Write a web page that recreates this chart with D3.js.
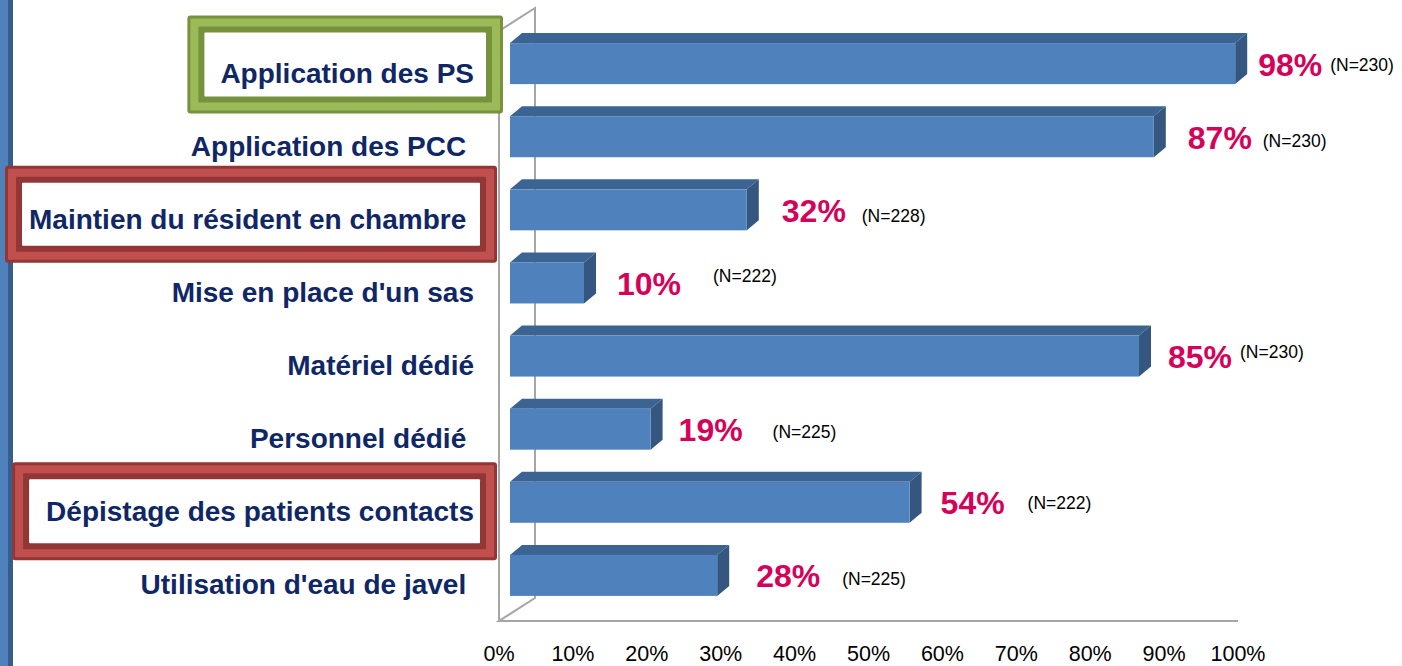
<!DOCTYPE html>
<html>
<head>
<meta charset="utf-8">
<script src="https://cdn.jsdelivr.net/npm/d3@7"></script>
<style>
  html, body { margin: 0; padding: 0; background: #fff; }
  svg { display: block; }
  text { font-family: "Liberation Sans", Arial, sans-serif; }
</style>
</head>
<body>
<div id="chart"></div>
<script>
// ---- data ----
const categories = [
  "Application des PS",
  "Application des PCC ",
  "Maintien du résident en chambre ",
  "Mise en place d'un sas",
  "Matériel dédié",
  "Personnel dédié ",
  "Dépistage des patients contacts",
  "Utilisation d'eau de javel "
];
const values = [98, 87, 32, 10, 85, 19, 54, 28];
const counts = [230, 230, 228, 222, 230, 225, 222, 225];
const tickValues = [0, 10, 20, 30, 40, 50, 60, 70, 80, 90, 100];

// label nudges (layout only)
const pctGap = [23, 34, 35, 33, 29, 28, 31, 39];
const nGap = [95, 109, 115, 129, 101, 122, 118, 125];
const nDy = [1, 4, 6, -7, -4, 3, 1, 4];

// highlighted categories
const highlights = [
  { cat: "Application des PS", light: "#9bbb59", dark: "#76923c", padL: 33, padR: 29, top: -57, bottom: 41 },
  { cat: "Maintien du résident en chambre ", light: "#c0504d", dark: "#923735", padL: 24, padR: 23, top: -53, bottom: 44 },
  { cat: "Dépistage des patients contacts", light: "#c0504d", dark: "#923735", padL: 34, padR: 23, top: -49, bottom: 49 }
];

const W = 1402, H = 666;
const svg = d3.select("#chart").append("svg")
  .attr("width", W).attr("height", H);

// left stripe
svg.append("rect").attr("x", 0).attr("y", 0).attr("width", 8).attr("height", H).attr("fill", "#4f81bd");
svg.append("rect").attr("x", 8).attr("y", 0).attr("width", 5).attr("height", H).attr("fill", "#385d8a");

// scales
const xAxisScale = d3.scaleLinear().domain([0, 100]).range([499, 1238]); // front plane
const xBar = d3.scaleLinear().domain([0, 100]).range([510, 1250]);       // bar plane
const y = d3.scaleBand().domain(categories).range([11, 628]).paddingInner(0.439).paddingOuter(0.439);

const wallDx = 36, wallDy = -23;   // depth of the side wall
const barDx = 12, barDy = -10;     // depth of each bar
const wallTop = 31, wallBottom = 621;

// ---- walls ----
const wall = svg.append("g").attr("stroke", "#a6a6a6").attr("stroke-width", 2).attr("fill", "none");
const x0 = xAxisScale(0);
wall.append("path").attr("d",
  `M${x0},${wallBottom} L${x0},${wallTop} L${x0 + wallDx},${wallTop + wallDy} L${x0 + wallDx},${wallBottom + wallDy} L${x0},${wallBottom} L${xAxisScale(100)},${wallBottom}`);

// ---- bars ----
const rows = categories.map((c, i) => ({ cat: c, v: values[i], n: counts[i], i }));
const bars = svg.append("g").selectAll("g").data(rows).join("g");

bars.append("path") // top face
  .attr("fill", "#3c6493")
  .attr("d", d => {
    const xa = xBar(0), xb = xBar(d.v), yt = y(d.cat);
    return `M${xa},${yt} L${xa + barDx},${yt + barDy} L${xb + barDx},${yt + barDy} L${xb},${yt} Z`;
  });
bars.append("path") // side face
  .attr("fill", "#34567f")
  .attr("d", d => {
    const xb = xBar(d.v), yt = y(d.cat), yb = yt + y.bandwidth();
    return `M${xb},${yt} L${xb + barDx},${yt + barDy} L${xb + barDx},${yb + barDy} L${xb},${yb} Z`;
  });
bars.append("rect") // front face
  .attr("x", xBar(0))
  .attr("y", d => y(d.cat))
  .attr("width", d => xBar(d.v) - xBar(0))
  .attr("height", y.bandwidth())
  .attr("fill", "#4f81bd");

// value labels
bars.append("text")
  .attr("x", d => xBar(d.v) + pctGap[d.i])
  .attr("y", d => y(d.cat) + y.bandwidth() / 2 + 12)
  .attr("font-size", 32)
  .attr("font-weight", "bold")
  .attr("fill", "#d4035a")
  .text(d => d.v + "%");

bars.append("text")
  .attr("x", d => xBar(d.v) + nGap[d.i])
  .attr("y", d => y(d.cat) + y.bandwidth() / 2 + nDy[d.i] + 6)
  .attr("font-size", 17.5)
  .attr("fill", "#000")
  .text(d => `(N=${d.n})`);

// ---- highlight frames ----
const labelRight = 474;
const labelSize = 28;
const labelY = c => y(c) + y.bandwidth() / 2 + 9;

// measure label widths
const measure = svg.append("text")
  .attr("font-size", labelSize).attr("font-weight", "bold")
  .style("white-space", "pre").attr("visibility", "hidden");

highlights.forEach(h => {
  measure.text(h.cat);
  const w = measure.node().getComputedTextLength();
  const cy = labelY(h.cat);
  const bx0 = labelRight - w - h.padL, bx1 = labelRight + h.padR;
  const by0 = cy + h.top, by1 = cy + h.bottom;
  const layers = [[0, h.dark], [3, h.light], [11, h.dark], [17, "#fff"]];
  const g = svg.append("g");
  layers.forEach(([inset, col]) => {
    g.append("rect")
      .attr("x", bx0 + inset).attr("y", by0 + inset)
      .attr("width", bx1 - bx0 - 2 * inset).attr("height", by1 - by0 - 2 * inset)
      .attr("rx", inset === 0 ? 3 : 1)
      .attr("fill", col);
  });
});
measure.remove();

// ---- category labels ----
svg.append("g").selectAll("text").data(categories).join("text")
  .attr("x", labelRight)
  .attr("y", d => labelY(d) + 10)
  .attr("text-anchor", "end")
  .attr("font-size", labelSize)
  .attr("font-weight", "bold")
  .attr("fill", "#102766")
  .style("white-space", "pre")
  .text(d => d);

// ---- x axis labels ----
svg.append("g").selectAll("text").data(tickValues).join("text")
  .attr("x", d => xAxisScale(d))
  .attr("y", 661)
  .attr("text-anchor", "middle")
  .attr("font-size", 21.5)
  .attr("fill", "#000")
  .text(d => d + "%");
</script>
</body>
</html>
